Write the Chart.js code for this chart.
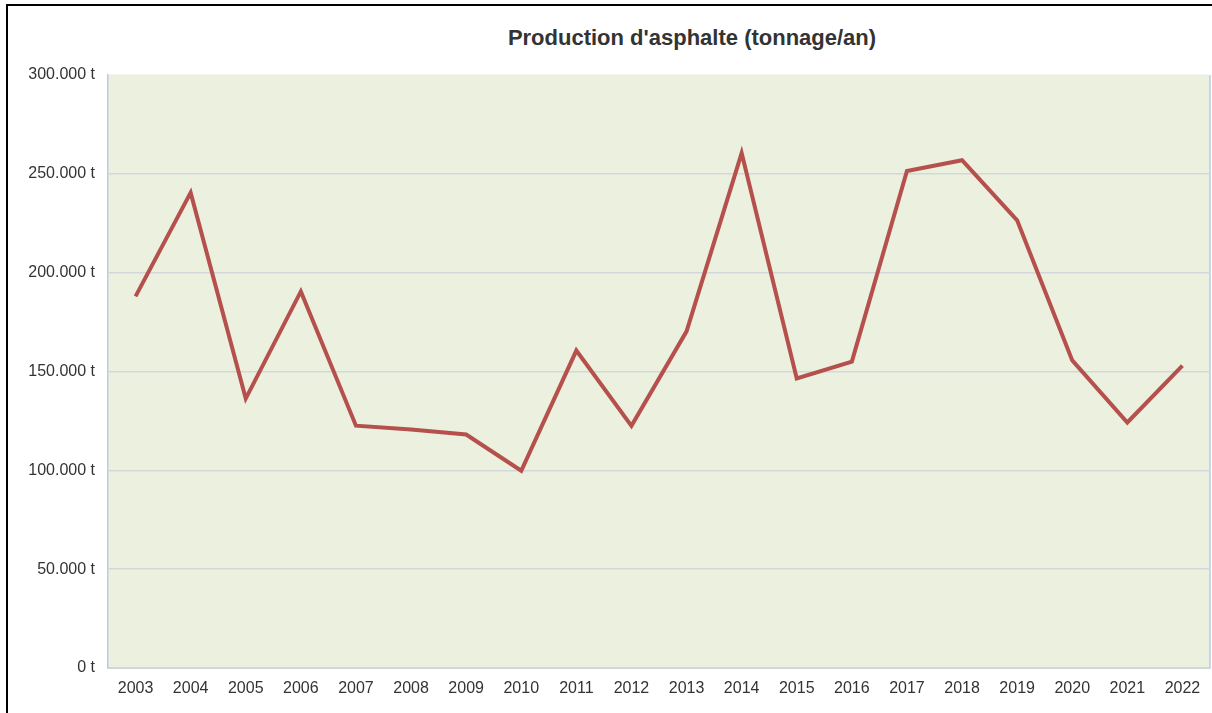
<!DOCTYPE html>
<html>
<head>
<meta charset="utf-8">
<script src="https://cdn.jsdelivr.net/npm/chart.js@4.4.0/dist/chart.umd.min.js"></script>
<style>
  html, body { margin: 0; padding: 0; background: #fff; overflow: hidden; }
  #frame { position: absolute; left: 6px; top: 4px; width: 1230px; height: 730px; border: 2px solid #000; }
  #wrap { position: absolute; left: 8px; top: 6px; width: 1204px; height: 707px; }
  #title { position: absolute; top: 25px; left: 492px; width: 400px; text-align: center;
           font: bold 22px "Liberation Sans", Arial, sans-serif; color: #333; }
</style>
</head>
<body>
<div id="frame"></div>
<div id="title">Production d'asphalte (tonnage/an)</div>
<div id="wrap"><canvas id="myChart1"></canvas></div>
<script>
const years = ['2003','2004','2005','2006','2007','2008','2009','2010','2011','2012',
               '2013','2014','2015','2016','2017','2018','2019','2020','2021','2022'];
const tonnage = [188000, 240500, 136300, 190500, 122600, 120600, 118100, 99800, 160600, 122500,
                 170300, 260500, 146500, 155000, 251400, 256900, 226500, 155600, 124200, 153000];

function formatTons(v){
  return String(v).replace(/\B(?=(\d{3})+(?!\d))/g, '.') + ' t';
}

// plot area background + right border
const areaBg = {
  id: 'areaBg',
  beforeDraw(chart){
    const a = chart.chartArea, c = chart.ctx;
    c.save();
    c.fillStyle = '#ebf0df';
    c.fillRect(a.left, a.top, a.right - a.left, a.bottom - a.top);
    c.strokeStyle = '#b9cbe6';
    c.lineWidth = 1.5;
    c.beginPath();
    c.moveTo(a.right, a.top); c.lineTo(a.right, a.bottom);
    c.stroke();
    c.restore();
  }
};

const ctx = document.getElementById('myChart1');

new Chart(ctx, {
  type: 'line',
  data: {
    labels: years,
    datasets: [{
      label: 'Production',
      data: tonnage,
      borderColor: '#b5504c',
      borderWidth: 4,
      pointRadius: 0,
      tension: 0
    }]
  },
  options: {
    responsive: true,
    maintainAspectRatio: false,
    animation: false,
    layout: { padding: { left: 0, right: 2, top: 69, bottom: 0 } },
    plugins: {
      legend: { display: false },
      tooltip: { enabled: false }
    },
    scales: {
      x: {
        offset: true,
        grid: { display: false, drawTicks: false },
        border: { display: true, color: '#d3d6d8', width: 2 },
        ticks: { color: '#333', padding: 11, maxRotation: 0, autoSkip: false,
                 font: { family: '"Liberation Sans", Arial, sans-serif', size: 16 } },
        afterFit: s => { s.height = 45; }
      },
      y: {
        min: 0,
        max: 300000,
        grid: { color: ctx => ctx.tick && ctx.tick.value === 300000 ? '#f2f4ee' : '#d3d7dc',
                lineWidth: 1.5, drawTicks: false },
        border: { display: true, color: '#b9cbe6', width: 1.5 },
        ticks: { stepSize: 50000, color: '#333', padding: 13,
                 font: { family: '"Liberation Sans", Arial, sans-serif', size: 16 },
                 callback: v => formatTons(v) },
        afterFit: s => { s.width = 100; }
      }
    }
  },
  plugins: [areaBg]
});
</script>
</body>
</html>
